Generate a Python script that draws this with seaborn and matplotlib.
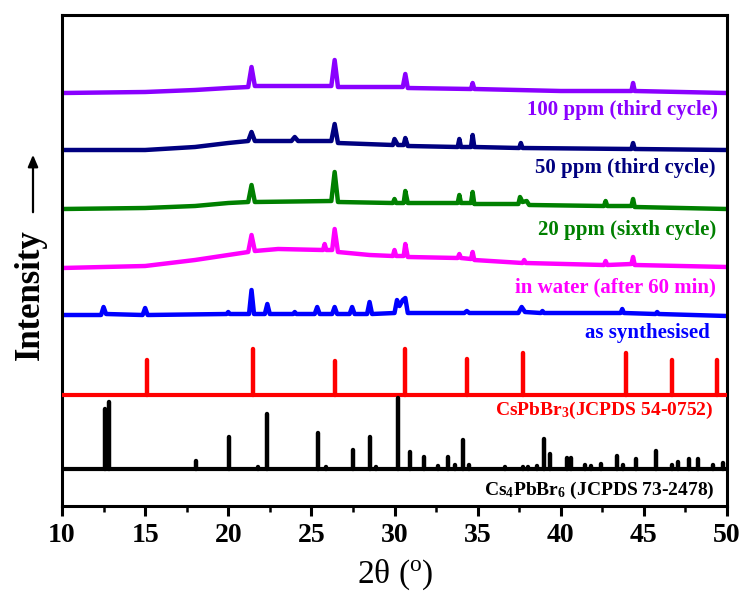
import matplotlib
matplotlib.use("Agg")
import matplotlib.pyplot as plt
import seaborn as sns
import numpy as np
import pandas as pd

# ---------------- data (2theta in degrees, intensity in arbitrary units) ----------------
ppm100_x = [10, 15, 18, 20, 21.2, 21.4, 21.6, 23, 26.2, 26.4, 26.6, 28, 30.5, 30.65, 30.8,
            34.6, 34.7, 34.8, 40, 44.25, 44.35, 44.45, 50]
ppm100_y = [13, 14, 16, 18, 19, 39, 20, 20, 20, 46, 19, 19, 19, 32, 18,
            17, 23, 17, 15, 15, 23, 15, 13]

ppm50_x = [10, 15, 18, 20, 21.2, 21.4, 21.6, 23.8, 24.0, 24.2, 26.2, 26.4, 26.6, 29.9, 30.0, 30.2,
           30.55, 30.65, 30.8, 33.8, 33.9, 34.0, 34.6, 34.7, 34.8, 37.5, 37.6, 37.7,
           44.25, 44.35, 44.45, 50]
ppm50_y = [16, 16, 19, 23, 25, 34, 25, 25, 29, 25, 25, 42, 23, 21, 27, 21,
           21, 28, 20, 19, 27, 19, 19, 31, 19, 18, 23, 18,
           17, 23, 17, 16]

ppm20_x = [10, 15, 18, 20, 21.2, 21.4, 21.6, 26.2, 26.4, 26.6, 29.9, 30.0, 30.1, 30.55, 30.65, 30.8,
           33.8, 33.9, 34.0, 34.6, 34.7, 34.8, 37.45, 37.55, 37.7, 37.95, 38.1,
           42.6, 42.7, 42.8, 44.25, 44.35, 44.45, 50]
ppm20_y = [17, 18, 20, 23, 24, 41, 24, 25, 54, 24, 23, 27, 23, 23, 35, 23,
           23, 31, 23, 23, 34, 22, 22, 29, 24, 25, 21,
           20, 25, 20, 20, 27, 19, 17]

water_x = [10, 15, 18, 20, 21.2, 21.4, 21.6, 23, 25.7, 25.8, 25.9, 26.25, 26.4, 26.6, 28.5,
           29.9, 30.0, 30.1, 30.55, 30.65, 30.8, 33.8, 33.9, 34.0, 34.6, 34.7, 34.8,
           37.7, 37.8, 37.9, 42.6, 42.7, 42.8, 44.25, 44.35, 44.45, 50]
water_y = [18, 20, 26, 31, 34, 51, 35, 37, 36, 42, 36, 36, 57, 34, 31,
           30, 36, 30, 30, 42, 29, 28, 32, 28, 27, 34, 26,
           23, 26, 23, 21, 25, 21, 22, 29, 21, 19]

synth_x = [10, 12.35, 12.5, 12.65, 14.85, 15.0, 15.15, 19.9, 20.0, 20.1, 21.25, 21.4, 21.55,
           22.2, 22.35, 22.5, 23.9, 24.0, 24.1, 25.2, 25.35, 25.5, 26.25, 26.4, 26.55,
           27.3, 27.45, 27.6, 28.35, 28.5, 28.65, 30.0, 30.15, 30.3, 30.5, 30.65, 30.8,
           34.2, 34.35, 34.5, 37.45, 37.65, 37.85, 38.8, 38.9, 39.0, 43.6, 43.7, 43.8,
           45.7, 45.8, 45.9, 50]
synth_y = [11, 11, 19, 12, 11, 18, 11, 12, 14, 12, 12, 36, 12,
           12, 22, 12, 12, 14, 12, 12, 19, 12, 12, 19, 12,
           12, 19, 12, 12, 24, 12, 13, 26, 20, 26, 28, 13,
           13, 15, 13, 13, 19, 14, 13, 15, 13, 13, 17, 13,
           12, 14, 12, 10]

cspbbr3_pos = [15.1, 21.5, 26.4, 30.65, 34.35, 37.7, 43.9, 46.7, 49.4]
cspbbr3_int = [35, 46, 34, 46, 36, 42, 42, 35, 35]

cs4pbbr6_pos = [12.6, 12.85, 18.05, 20.05, 21.8, 22.35, 25.4, 25.9, 27.5, 28.5, 28.9, 30.2,
                30.95, 31.8, 32.6, 33.2, 33.65, 34.1, 34.5, 36.65, 37.7, 38.0, 38.6, 39.0,
                39.35, 40.4, 40.6, 41.45, 41.8, 42.4, 43.4, 43.75, 44.5, 45.7, 46.7, 47.05,
                47.7, 48.25, 49.15, 49.75]
cs4pbbr6_int = [60, 67, 8, 32, 2, 55, 36, 2, 19, 32, 2, 71,
                17, 12, 3, 12, 4, 29, 4, 2, 2, 2, 3, 30,
                15, 11, 11, 4, 3, 5, 13, 4, 10, 18, 4, 7,
                10, 10, 4, 6]

labels = ["100 ppm (third cycle)", "50 ppm (third cycle)", "20 ppm (sixth cycle)",
          "in water (after 60 min)", "as synthesised"]
ref_labels = ["CsPbBr$_3$(JCPDS 54-0752)", "Cs$_4$PbBr$_6$ (JCPDS 73-2478)"]
xticks = [10, 15, 20, 25, 30, 35, 40, 45, 50]

# ---------------- style ----------------
sns.set_theme(style="ticks")
plt.rcParams["font.family"] = ["Liberation Serif", "DejaVu Serif"]
plt.rcParams["mathtext.fontset"] = "custom"
plt.rcParams["mathtext.rm"] = "Liberation Serif"
plt.rcParams["mathtext.it"] = "Liberation Serif"
plt.rcParams["mathtext.bf"] = "Liberation Serif:bold"
plt.rcParams["mathtext.default"] = "regular"
plt.rcParams["text.color"] = "black"
plt.rcParams["xtick.color"] = "black"
plt.rcParams["xtick.labelcolor"] = "black"

fig = plt.figure(figsize=(7.45, 5.94), dpi=100)
ax = fig.add_axes([62 / 745, 1 - 506 / 594, (727 - 62) / 745, (506 - 15) / 594])

curves = [
    (ppm100_x, ppm100_y, 400, "#8a00ff"),
    (ppm50_x, ppm50_y, 340, "#000080"),
    (ppm20_x, ppm20_y, 280, "#008000"),
    (water_x, water_y, 220, "#ff00ff"),
    (synth_x, synth_y, 180, "#0000ff"),
]
label_pos = [(49.46, 396), (49.28, 338), (49.34, 276), (49.34, 219), (48.98, 173)]

for (xs, ys, off, col), lab, (lx, ly) in zip(curves, labels, label_pos):
    df = pd.DataFrame({"two_theta": xs, "intensity": np.array(ys) + off})
    sns.lineplot(data=df, x="two_theta", y="intensity", color=col, lw=3.2,
                 estimator=None, sort=False, ax=ax, solid_joinstyle="round")
    ax.text(lx, ly, lab, color=col, fontsize=15, fontweight="bold",
            ha="right", va="center")

# CsPbBr3 reference sticks
off3 = 111
ax.axhline(off3, color="#ff0000", lw=3.0, zorder=3)
ax.vlines(cspbbr3_pos, off3, np.array(cspbbr3_int) + off3, color="#ff0000", lw=3.2,
          capstyle="round", zorder=3)
ax.text(49.16, 96, ref_labels[0], color="#ff0000", fontsize=14, fontweight="bold",
        ha="right", va="center")

# Cs4PbBr6 reference sticks
off4 = 37
ax.axhline(off4, color="black", lw=3.0, zorder=3)
ax.vlines(cs4pbbr6_pos, off4, np.array(cs4pbbr6_int) + off4, color="black", lw=3.2,
          capstyle="round", zorder=3)
ax.text(49.28, 16, ref_labels[1], color="black", fontsize=14, fontweight="bold",
        ha="right", va="center")

ax.set_xlim(10, 50)
ax.set_ylim(0, 491)
ax.set_xticks(xticks)
ax.set_xticks([12.5, 17.5, 22.5, 27.5, 32.5, 37.5, 42.5, 47.5], minor=True)
ax.set_xticklabels([str(t) for t in xticks], fontsize=20, fontweight="bold", color="black")
ax.set_yticks([])
ax.tick_params(axis="x", which="major", direction="out", length=7, width=2.2,
               color="black", pad=5)
ax.tick_params(axis="x", which="minor", direction="out", length=4, width=1.8,
               color="black")
for s in ax.spines.values():
    s.set_linewidth(2.2)
    s.set_color("black")
ax.set_xlabel("")
ax.set_ylabel("")

fig.text(395 / 745, 1 - 575 / 594, "2θ ($^{o}$)", fontsize=24, ha="center", va="center",
         color="black")
fig.text(30 / 745, 1 - 295 / 594, "Intensity", fontsize=25, fontweight="bold",
         rotation=90, ha="center", va="center", color="black")
fig.add_artist(matplotlib.patches.FancyArrowPatch(
    (33 / 745, 1 - 215 / 594), (33 / 745, 1 - 152 / 594), transform=fig.transFigure,
    arrowstyle="-|>,head_length=7,head_width=3", color="black", lw=1.6))

fig.savefig("out.png", dpi=100)
